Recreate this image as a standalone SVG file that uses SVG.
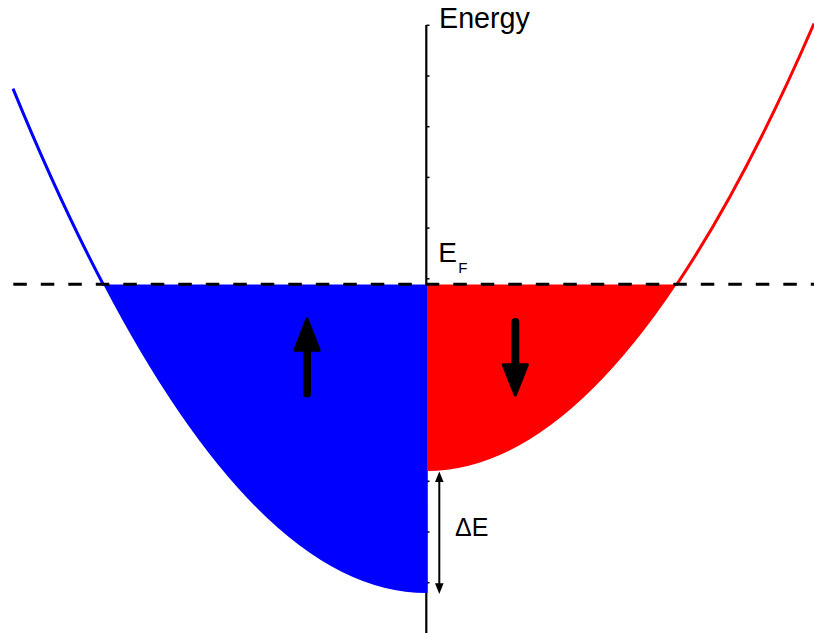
<svg xmlns="http://www.w3.org/2000/svg" width="814" height="633" viewBox="0 0 814 633">
  <style>
    .txt { font-family: "Liberation Sans", Arial, sans-serif; fill: #000; }
    .tick { stroke: #000; stroke-width: 1.5; }
    .spin { fill: #000; stroke: #000; stroke-width: 3; stroke-linejoin: round; }
    .shaft { stroke: #000; stroke-width: 8; stroke-linecap: round; }
  </style>
  <rect width="814" height="633" fill="#fff"/>

  <g id="axis">
    <line x1="426.3" y1="25" x2="426.3" y2="633" stroke="#000" stroke-width="2.2"/>
    <g class="tick">
      <line x1="426.3" y1="25.3" x2="429.5" y2="25.3"/>
      <line x1="426.3" y1="76" x2="429.5" y2="76"/>
      <line x1="426.3" y1="126.7" x2="429.5" y2="126.7"/>
      <line x1="426.3" y1="177.4" x2="429.5" y2="177.4"/>
      <line x1="426.3" y1="228.1" x2="429.5" y2="228.1"/>
      <line x1="426.3" y1="278.8" x2="429.5" y2="278.8"/>
      <line x1="426.3" y1="481.3" x2="429.5" y2="481.3"/>
      <line x1="426.3" y1="532" x2="429.5" y2="532"/>
      <line x1="426.3" y1="582.7" x2="429.5" y2="582.7"/>
    </g>
  </g>

  <g id="spin-up-band">
    <path d="M103.3,284.5 Q264.9,593 426.5,593 L427.6,593 L427.6,284.5 Z" fill="#0000ff"/>
    <path d="M13,88.6 Q58.15,198.75 103.8,285.5" fill="none" stroke="#0000ff" stroke-width="3"/>
  </g>

  <g id="spin-down-band">
    <path d="M427,284.5 L676.7,284.5 Q551.6,471 426.5,471 L427,471 Z" fill="#ff0000"/>
    <path d="M676.2,285.3 Q745.35,182.1 814,23.5" fill="none" stroke="#ff0000" stroke-width="3"/>
  </g>

  <g id="fermi-level">
    <line x1="13.3" y1="284.3" x2="814" y2="284.3" stroke="#000" stroke-width="3" stroke-dasharray="13.5 14"/>
  </g>

  <g id="arrow-up">
    <line class="shaft" x1="307" y1="393.5" x2="307" y2="350"/>
    <polygon class="spin" points="307,318.8 294.8,350.2 319.2,350.2"/>
  </g>

  <g id="arrow-down">
    <line class="shaft" x1="515.3" y1="322" x2="515.3" y2="365"/>
    <polygon class="spin" points="515.3,395.2 503.2,364.8 527.4,364.8"/>
  </g>

  <g id="connectors">
    <line x1="439.3" y1="480" x2="439.3" y2="585" stroke="#000" stroke-width="2"/>
    <polygon points="439.3,471.5 435,482 443.6,482" fill="#000"/>
    <polygon points="439.3,594 435,583.3 443.6,583.3" fill="#000"/>
  </g>

  <g id="labels">
    <text class="txt" x="439" y="27.5" font-size="28.7">Energy</text>
    <text class="txt" x="438.3" y="261.7" font-size="28">E</text>
    <text class="txt" x="458.3" y="273.3" font-size="15">F</text>
    <text class="txt" x="455" y="535.5" font-size="25">ΔE</text>
  </g>
</svg>
